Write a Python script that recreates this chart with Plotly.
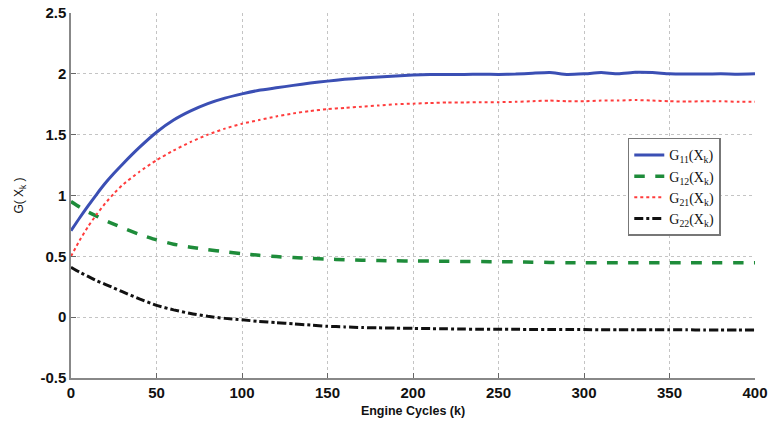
import plotly.graph_objects as go

# Engine cycle index k
cycles = [0, 5, 10, 15, 20, 25, 30, 40, 50, 60, 70, 80, 90, 100, 110, 120, 130, 140,
          150, 160, 170, 180, 190, 200, 210, 220, 230, 240, 250, 260, 270, 280, 290,
          300, 310, 320, 330, 340, 350, 360, 370, 380, 390, 400]

g11 = [0.71, 0.815, 0.915, 1.01, 1.10, 1.18, 1.255, 1.395, 1.52, 1.62, 1.695, 1.755, 1.80,
       1.835, 1.865, 1.885, 1.905, 1.925, 1.94, 1.955, 1.965, 1.975, 1.982, 1.99, 1.995,
       1.995, 1.995, 1.997, 1.995, 1.998, 2.005, 2.01, 1.995, 2.0, 2.01, 2.0, 2.012, 2.01,
       2.0, 1.998, 1.998, 2.0, 1.997, 2.0]

g12 = [0.95, 0.905, 0.865, 0.83, 0.795, 0.765, 0.735, 0.68, 0.635, 0.60, 0.575, 0.555,
       0.537, 0.522, 0.508, 0.498, 0.49, 0.483, 0.477, 0.472, 0.468, 0.465, 0.463, 0.462,
       0.461, 0.46, 0.458, 0.457, 0.456, 0.455, 0.452, 0.45, 0.448, 0.447, 0.447, 0.447,
       0.447, 0.447, 0.447, 0.447, 0.447, 0.447, 0.447, 0.447]

g21 = [0.50, 0.63, 0.745, 0.845, 0.935, 1.015, 1.085, 1.195, 1.29, 1.37, 1.44, 1.50, 1.55,
       1.59, 1.62, 1.65, 1.675, 1.695, 1.71, 1.72, 1.73, 1.74, 1.75, 1.755, 1.76, 1.765,
       1.765, 1.767, 1.767, 1.77, 1.775, 1.78, 1.775, 1.775, 1.78, 1.78, 1.785, 1.78,
       1.775, 1.772, 1.775, 1.775, 1.77, 1.77]

g22 = [0.41, 0.37, 0.335, 0.30, 0.27, 0.24, 0.21, 0.15, 0.097, 0.06, 0.03, 0.007, -0.01,
       -0.022, -0.035, -0.045, -0.055, -0.065, -0.075, -0.08, -0.085, -0.088, -0.09,
       -0.092, -0.094, -0.096, -0.098, -0.099, -0.10, -0.10, -0.101, -0.101, -0.102,
       -0.102, -0.103, -0.103, -0.103, -0.104, -0.104, -0.104, -0.105, -0.105, -0.105,
       -0.105]

x_ticks = [0, 50, 100, 150, 200, 250, 300, 350, 400]
y_ticks = [-0.5, 0, 0.5, 1, 1.5, 2, 2.5]
y_tick_text = ["-0.5", "0", "0.5", "1", "1.5", "2", "2.5"]

series = [
    ("G<sub>11</sub>(X<sub>k</sub>)", g11, "#3b4fb4", "solid", 3),
    ("G<sub>12</sub>(X<sub>k</sub>)", g12, "#1e8c3a", "dash", 3.5),
    ("G<sub>21</sub>(X<sub>k</sub>)", g21, "#ff3c3c", "dot", 2),
    ("G<sub>22</sub>(X<sub>k</sub>)", g22, "#111111", "dashdot", 3),
]

fig = go.Figure()
for name, vals, color, dash, width in series:
    fig.add_trace(go.Scatter(
        x=cycles, y=vals, name=name, mode="lines",
        line=dict(color=color, dash=dash, width=width, shape="spline", smoothing=0.5),
    ))

tick_font = dict(family="Liberation Sans, Arial, sans-serif", size=15, color="#111", weight="bold")

fig.update_layout(
    width=770, height=421,
    margin=dict(l=71, r=15, t=13, b=43),
    paper_bgcolor="white", plot_bgcolor="white",
    showlegend=True,
    legend=dict(
        x=0.814, y=0.658, xanchor="left", yanchor="top",
        bgcolor="white", bordercolor="#777", borderwidth=1.5,
        font=dict(family="Liberation Serif, Times New Roman, serif", size=14, color="#111"),
        itemwidth=30,
    ),
    xaxis=dict(
        range=[0, 400], tickvals=x_ticks, ticks="inside", ticklen=5, tickcolor="#666",
        showline=True, linecolor="#888", linewidth=1.5,
        showgrid=True, gridcolor="#c4c4c4", griddash="dot", gridwidth=1,
        zeroline=False, tickfont=tick_font, automargin=False, ticklabelstandoff=0,
        title=dict(text="Engine Cycles (k)", standoff=6,
                   font=dict(family="Liberation Sans, Arial, sans-serif", size=12.5,
                             color="#111", weight="bold")),
    ),
    yaxis=dict(
        range=[-0.5, 2.5], tickvals=y_ticks, ticktext=y_tick_text,
        ticks="inside", ticklen=5, tickcolor="#666",
        showline=True, linecolor="#888", linewidth=1.5,
        showgrid=True, gridcolor="#c4c4c4", griddash="dot", gridwidth=1,
        zeroline=False, tickfont=tick_font, automargin=False,
        title=dict(text="G( X<sub>k</sub> )", standoff=14,
                   font=dict(family="Liberation Sans, Arial, sans-serif", size=12, color="#111")),
    ),
)

fig.write_html("out.html")
